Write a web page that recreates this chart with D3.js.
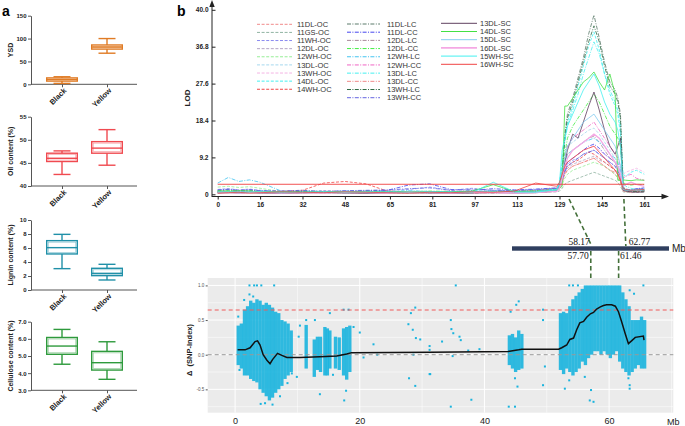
<!DOCTYPE html>
<html><head><meta charset="utf-8">
<script src="https://cdn.jsdelivr.net/npm/d3@7"></script>
<style>body{margin:0;background:#fff}svg{display:block;font-family:"Liberation Sans",Arial,sans-serif}</style>
</head><body><svg id="c" width="685" height="426"></svg>
<script>
// ---------------- DATA ----------------
const boxCategories = ["Black","Yellow"];
// [min, q1, median, q3, max]
const ysdStats = [[2,7,10.5,14,16.5],[68,77,81.5,86,100]];
const oilStats = [[42.5,45.3,46.0,47.1,47.6],[44.5,47.1,48.2,49.6,52.2]];
const ligninStats = [[3.05,5.15,6.05,7.05,7.95],[1.43,2.05,2.38,3.1,3.67]];
const celluloseStats = [[4.52,5.1,5.58,6.08,6.55],[3.64,4.18,4.61,5.27,5.83]];
const ysdTicks = [0,50,100,150];
const oilTicks = [40,45,50,55];
const ligninTicks = [0,2,4,6,8,10];
const celluloseTicks = [3,4,5,6,7];

const lodXTicks = [0,16,32,48,65,81,97,113,129,145,161];
const lodXLabels = ["0","16","32","48","65","81","97","113","129","145","161"];
const lodYTicks = [0,9.2,18.4,27.6,36.8,46];
const lodYLabels = ["0","9.2","18.4","27.6","36.8","40.0"];
const lodThreshold = 2.5;
const lodPositions = [0,4,8,12,16,24,32,40,48,56,64,72,80,88,96,104,112,120,128,
  129,130,131,132,134,136,138,140,142,144,146,148,150,151,152,153,154,156,158,161];
const lodNames = ["11DL-OC","11GS-OC","11WH-OC","12DL-OC","12WH-OC","13DL-OC","13WH-OC","14DL-OC","14WH-OC",
  "11DL-LC","11DL-CC","12DL-LC","12DL-CC","12WH-LC","12WH-CC","13DL-LC","13DL-CC","13WH-LC","13WH-CC",
  "13DL-SC","14DL-SC","15DL-SC","16DL-SC","15WH-SC","16WH-SC"];
const lodValues = [
 [0.9,1.0,0.8,0.9,0.7,0.6,0.5,0.8,0.7,0.6,0.5,0.7,0.6,0.8,0.7,0.6,0.8,0.9,1.2, 1.5,3.0,5.0,6.0,7.0,7.5,8.0,8.5,9.0,8.0,7.0,6.0,5.0,4.0,3.0,1.0,0.8,0.7,0.8,0.9],
 [0.5,0.6,0.4,0.5,0.6,0.4,0.5,0.3,0.4,0.5,0.4,0.3,0.5,0.4,0.3,0.5,0.4,0.5,0.6, 0.8,1.5,2.5,3.0,3.5,4.0,4.5,5.0,5.5,5.0,4.5,4.0,3.5,3.0,2.0,0.6,0.5,0.4,0.5,0.5],
 [1.2,1.4,1.1,1.3,1.0,0.8,0.6,0.9,0.7,0.8,1.0,1.2,1.8,1.0,1.5,0.9,1.0,1.1,1.5, 2.0,4.0,6.0,7.5,8.5,9.0,10.0,10.5,11.0,10.0,9.0,8.0,7.0,5.5,4.0,1.5,1.2,1.0,1.3,1.5],
 [0.8,0.9,1.0,0.8,0.7,0.6,0.8,0.5,0.6,0.7,0.8,0.6,0.7,0.5,0.6,0.7,0.8,0.7,1.0, 1.5,3.5,5.5,6.5,7.5,8.0,8.5,9.0,9.5,8.5,8.0,7.0,6.0,5.0,3.0,1.0,0.8,0.7,0.9,1.0],
 [1.8,2.0,1.7,1.9,1.5,0.7,0.6,0.5,0.6,0.7,0.5,0.6,0.5,0.7,0.6,0.8,0.5,0.6,0.9, 1.2,2.5,4.0,5.0,6.0,6.5,7.0,7.5,8.0,7.5,7.0,6.0,5.0,4.0,3.0,1.0,0.8,0.7,0.8,0.9],
 [0.8,0.7,0.9,0.8,0.6,0.5,0.7,0.6,0.8,0.7,0.6,0.5,0.7,0.6,0.8,0.7,0.6,0.8,1.5, 3.0,7.0,10.0,12.0,13.0,14.0,15.0,16.0,16.5,15.0,13.0,11.0,9.0,7.0,4.0,1.2,1.0,0.9,1.0,1.1],
 [0.6,0.5,0.7,0.6,0.5,0.4,0.6,0.5,0.4,0.6,0.5,0.7,0.6,0.5,0.4,0.6,0.5,0.7,1.0, 2.0,4.0,6.0,8.0,9.0,10.0,11.0,11.5,12.0,11.0,10.0,9.0,8.0,7.0,6.0,5.0,5.5,6.0,6.5,5.5],
 [0.7,0.8,0.6,0.7,0.9,0.6,0.5,0.6,0.7,0.5,0.6,0.8,0.7,0.6,0.5,0.7,0.6,0.8,1.2, 3.0,8.0,14.0,18.0,22.0,27.0,32.0,37.0,40.5,36.0,30.0,25.0,22.0,20.0,15.0,5.0,4.5,5.5,6.0,5.0],
 [0.5,0.6,0.4,0.5,0.6,0.8,1.0,2.8,3.2,2.6,0.8,0.6,0.5,0.4,0.6,0.5,0.7,0.9,1.5, 2.5,4.0,6.0,7.0,8.0,8.5,9.5,10.5,10.0,9.0,8.0,7.0,6.0,5.0,3.5,1.2,1.0,0.8,0.9,1.0],
 [0.6,0.5,0.7,0.6,0.5,0.6,0.4,0.5,0.6,0.5,0.4,0.6,0.5,0.6,0.5,0.4,0.6,0.7,1.0, 2.0,5.0,15.0,20.0,24.0,29.0,34.0,40.0,44.7,39.0,33.0,28.0,26.0,24.0,20.0,2.0,1.0,0.8,0.7,0.8],
 [1.0,1.2,0.9,1.1,0.8,0.7,0.9,0.6,0.8,0.9,1.0,2.3,2.6,1.2,1.0,1.4,1.1,1.3,1.6, 2.0,4.0,6.0,8.0,9.0,10.0,11.0,12.0,12.5,11.5,10.0,9.0,8.0,7.0,5.0,1.5,1.3,1.1,1.4,1.6],
 [0.7,0.6,0.8,0.7,0.6,0.5,0.7,0.6,0.5,0.7,0.6,0.5,0.6,0.7,0.5,0.6,0.7,0.6,1.0, 2.0,5.0,8.0,10.0,11.0,12.0,13.0,14.0,14.5,13.0,11.0,9.0,8.0,6.0,4.0,1.0,0.8,0.7,0.8,0.9],
 [0.9,1.0,0.8,0.9,0.7,0.6,0.8,0.7,0.6,0.8,0.7,0.6,0.8,0.7,0.6,0.7,0.8,0.9,1.2, 2.5,6.0,10.0,14.0,17.0,19.0,21.0,23.0,25.0,23.0,20.0,17.0,15.0,14.0,12.0,3.0,2.5,2.3,2.5,2.4],
 [2.8,4.2,3.2,3.6,3.0,0.8,0.7,0.6,0.8,0.6,0.7,0.9,0.7,0.6,0.8,0.9,0.7,0.8,1.4, 2.5,5.0,8.0,10.0,11.0,12.0,13.0,13.5,14.0,13.0,12.0,10.0,9.0,8.0,6.0,1.5,1.2,1.0,1.2,1.3],
 [0.5,0.6,0.4,0.5,0.6,0.5,0.4,0.6,0.5,0.4,0.6,0.5,0.4,0.6,0.5,0.4,0.5,0.6,1.0, 2.0,5.0,9.0,12.0,14.0,15.0,16.0,17.0,18.0,16.0,14.0,12.0,10.0,9.0,7.0,4.0,4.5,5.0,4.0,3.5],
 [0.6,0.7,0.5,0.6,0.7,0.5,0.6,0.4,0.5,0.6,0.5,0.4,0.6,0.5,0.7,0.6,0.5,0.7,1.1, 2.5,7.0,13.0,17.0,21.0,25.0,30.0,34.0,38.0,35.0,30.0,26.0,23.0,21.0,17.0,3.0,2.0,1.5,1.2,1.0],
 [0.4,0.5,0.3,0.4,0.5,0.3,0.4,0.5,0.3,0.4,0.5,0.3,0.4,0.5,0.3,0.4,0.5,0.4,0.8, 1.5,3.0,5.0,6.0,7.0,7.5,8.0,8.5,9.0,8.0,7.0,6.0,5.5,5.0,3.5,0.8,0.6,0.5,0.6,0.7],
 [0.5,0.4,0.6,0.5,0.4,0.5,0.6,0.4,0.5,0.4,0.6,0.5,0.4,0.5,0.6,0.4,0.5,0.6,0.9, 2.0,5.0,14.0,19.0,23.0,28.0,33.0,38.0,42.0,38.0,32.0,27.0,25.0,23.0,19.0,1.8,1.0,0.8,0.7,0.8],
 [1.1,1.3,1.0,1.2,0.9,0.8,1.0,0.7,0.9,1.0,1.1,1.4,1.6,1.0,1.3,1.0,0.9,1.2,1.5, 2.0,3.5,5.5,7.0,8.0,9.0,10.0,10.5,11.0,10.0,9.0,8.0,7.0,6.0,4.5,1.4,1.2,1.0,1.3,1.4],
 [0.3,0.4,0.3,0.4,0.3,0.2,0.3,0.4,0.3,0.2,0.3,0.4,0.3,0.2,0.3,0.4,0.3,0.4,0.8, 2.0,4.0,8.0,11.0,15.0,14.0,18.0,22.0,25.5,21.0,16.0,12.0,10.0,12.0,14.0,1.0,0.8,0.6,0.5,0.6],
 [0.8,0.7,0.9,0.8,0.6,0.7,0.5,0.6,0.7,0.5,0.6,0.7,0.5,0.6,0.8,2.4,0.7,0.6,1.0, 1.5,2.0,22.0,22.0,24.0,26.0,28.0,29.0,30.5,28.0,26.0,30.0,25.0,3.5,3.5,3.6,3.5,3.4,3.6,3.5],
 [0.6,0.5,0.7,0.6,0.5,0.6,0.4,0.5,0.6,0.4,0.5,0.6,0.5,0.4,0.6,0.5,0.4,0.6,1.0, 2.0,5.0,9.0,12.0,14.0,16.0,18.0,19.0,20.0,18.0,16.0,14.0,12.0,10.0,7.0,1.2,1.0,0.9,1.0,1.1],
 [0.4,0.5,0.3,0.4,0.5,0.3,0.4,0.3,0.5,0.4,0.3,0.5,0.4,0.3,0.5,0.4,0.3,0.4,0.7, 1.5,4.0,7.0,9.0,11.0,12.0,13.0,14.0,15.0,14.0,12.0,10.0,8.0,7.0,5.0,2.0,2.5,3.0,2.5,2.0],
 [0.5,0.6,0.4,0.5,0.6,0.4,0.5,0.6,0.4,0.5,0.6,0.4,0.5,0.6,0.4,3.0,0.6,0.5,1.2, 3.0,11.0,14.0,17.0,20.0,23.0,26.0,28.0,30.0,27.0,23.0,20.0,18.0,16.0,12.0,1.5,1.2,1.0,1.1,1.2],
 [0.3,0.4,0.5,0.3,0.4,0.6,0.5,0.4,0.6,0.5,0.4,0.3,0.5,0.4,0.6,0.5,0.8,2.8,2.0, 3.0,5.0,7.0,8.0,9.0,10.0,11.0,11.5,12.0,10.5,9.0,7.5,6.0,5.0,3.5,1.5,1.2,1.0,1.1,1.2]
];

const markerTop = [58.17, 62.77];
const markerTopLod = [132.6, 153.3];
const markerBottom = [57.70, 61.46];

const snpXTicks = [0,20,40,60];
const snpYTicks = [-0.5,0,0.5,1.0];
const snpYLabels = ["-0.5","0.0","0.5","1.0"];
const snpThreshold = 0.645;
// dense SNP clouds: [Mb, low, high]
const snpBins = [
 [0.5,-0.15,0.42],[1.0,-0.2,0.45],[1.5,-0.3,0.65],[2.0,-0.3,0.7],[2.5,-0.35,0.78],[3.0,-0.38,0.75],
 [3.5,-0.4,0.8],[4.0,-0.5,0.78],[4.5,-0.55,0.72],[5.0,-0.6,0.75],[5.5,-0.66,0.72],[6.0,-0.62,0.68],
 [6.5,-0.55,0.62],[7.0,-0.5,0.6],[7.5,-0.45,0.5],[8.0,-0.35,0.48],[8.5,-0.3,0.45],[9.0,-0.25,0.35],
 [11.4,-0.2,0.43],[12.7,-0.32,0.22],[13.2,-0.22,0.26],[13.7,-0.25,0.26],[14.4,-0.3,0.4],[14.8,-0.3,0.38],
 [15.2,-0.2,0.35],[16.1,-0.2,0.26],[16.7,-0.22,0.25],[17.4,-0.3,0.38],[17.9,-0.36,0.4],[18.4,-0.25,0.42],
 [44.0,-0.15,0.28],[44.5,-0.2,0.3],[45.0,-0.25,0.25],[45.5,-0.22,0.35],[46.0,-0.2,0.3],
 [52.2,-0.22,0.6],[52.7,-0.28,0.62],[53.2,-0.2,0.6],[53.7,-0.25,0.7],[54.2,-0.3,0.8],[54.7,-0.25,0.85],
 [55.2,-0.2,0.9],[55.7,-0.1,0.95],[56.2,-0.15,1.0],[56.7,-0.05,1.0],[57.2,0.0,1.0],[57.7,0.05,1.0],
 [58.2,0.05,1.0],[58.7,0.0,1.0],[59.2,0.05,1.0],[59.7,0.0,1.0],[60.2,-0.05,1.0],[60.7,0.0,1.0],
 [61.2,0.05,1.0],[61.7,-0.1,1.0],[62.2,-0.2,0.9],[62.7,-0.25,0.8],[63.2,-0.3,0.7],[63.7,-0.25,0.5],
 [64.2,-0.2,0.5],[64.7,-0.15,0.5],[65.2,-0.2,0.55],[65.7,-0.2,0.5]
];
// scattered SNPs: [Mb, value]
const snpPoints = [
 [2.3,1.0],[3.05,1.0],[3.5,1.0],[4.2,1.0],[6.26,1.0],[2.3,0.87],[2.9,0.84],[1.45,0.79],[0.5,0.55],[0.7,-0.22],
 [4.1,-0.71],[4.8,-0.7],[6.0,-0.72],[7.2,-0.6],[8.4,-0.41],[9.1,-0.27],[9.9,-0.32],[10.4,0.42],[10.2,0.26],
 [11.4,0.5],[12.8,0.5],[15.2,0.6],[17.4,0.65],[18.2,0.65],[19.0,0.4],[13.6,-0.57],[15.7,-0.29],[17.5,-0.66],
 [17.8,-0.52],[20.0,0.32],[20.6,-0.04],[22.2,0.15],[22.8,0.0],[27.8,0.44],[28.2,0.6],[28.9,0.68],[28.5,0.36],
 [29.0,0.24],[29.7,0.22],[28.6,0.0],[27.9,-0.34],[28.9,-0.45],[31.2,-0.28],[31.2,0.125],[31.2,0.07],
 [35.4,1.0],[34.6,0.5],[34.7,0.37],[35.0,0.31],[36.0,0.26],[36.2,0.21],[33.2,0.19],[34.9,-0.02],[39.2,0.08],
 [37.4,0.06],[37.9,-0.65],[34.6,-0.75],[31.3,-0.28],[43.9,-0.75],[44.9,-0.75],[45.5,0.77],[45.1,0.72],
 [44.2,0.62],[45.3,-0.46],[44.9,-0.34],[49.4,0.65],[49.4,0.5],[49.7,-0.17],[49.4,-0.44],[52.9,-0.49],
 [53.6,-0.37],[56.1,-0.32],[56.9,-0.66],[57.1,-0.51],[57.5,-0.68],[63.1,-0.34],[63.3,-0.44],[63.3,-0.49],
 [65.5,1.0],[53.6,1.0],[54.2,1.0],[55.0,1.0],[63.3,0.93],[64.0,0.88]
];
const snpSmooth = [
 [0.4,0.07],[1.6,0.07],[2.4,0.1],[3.2,0.19],[3.6,0.2],[4.0,0.14],[4.5,0.0],[5.1,-0.08],[5.6,-0.13],[6.0,-0.07],
 [6.8,0.02],[7.5,-0.01],[8.3,-0.04],[10.4,-0.04],[13.6,-0.03],[16.3,-0.02],[17.9,0.01],[18.7,0.03],[31.3,0.035],
 [43.8,0.045],[45.5,0.07],[46.0,0.08],[51.9,0.08],[52.4,0.1],[53.2,0.14],[53.7,0.22],[54.3,0.24],[54.8,0.36],
 [55.3,0.46],[55.9,0.48],[56.4,0.54],[57.0,0.59],[57.5,0.61],[58.0,0.66],[58.6,0.69],[59.1,0.71],[59.6,0.72],
 [60.4,0.72],[61.0,0.7],[61.5,0.62],[62.0,0.48],[62.6,0.3],[63.1,0.16],[63.6,0.2],[64.2,0.25],[65.5,0.27],[65.6,0.21]
];

// ---------------- STYLES ----------------
const lodColors = ["#f08a8a","#90b4a2","#8a8af0","#b4a4c4","#96ee96","#a6d8ee","#f4b4e4","#44f0f0","#f04444",
  "#5a7a6a","#4444ee","#a88898","#44ee44","#44c4f0","#f064c4","#44f0f0","#f08a8a","#2f6a44","#6464e0",
  "#604060","#44e044","#84ccf0","#f4a8e4","#44f0f0","#f04444"];
const lodDash = i => i < 9 ? "3,1.6" : (i < 19 ? "4,1.4,1,1.4" : null);

const svg = d3.select("#c");
const boldTxt = (sel, size) => sel.attr("font-size", size).attr("font-weight", "bold").attr("fill", "#222");

// ---------------- PANEL a ----------------
svg.append("text").attr("x", 2).attr("y", 16).attr("font-size", 14).attr("font-weight", "bold").text("a");
svg.append("text").attr("x", 177).attr("y", 16).attr("font-size", 14).attr("font-weight", "bold").text("b");

const boxPanels = [
 {title:"YSD", color:"#e07b24", stats:ysdStats, ticks:ysdTicks, domain:[0,150], top:15.7, bottom:84.3},
 {title:"Oil content (%)", color:"#f04a50", stats:oilStats, ticks:oilTicks, domain:[40,55], top:116.7, bottom:186},
 {title:"Lignin content (%)", color:"#2090a8", stats:ligninStats, ticks:ligninTicks, domain:[0,10], top:220, bottom:290},
 {title:"Cellulose content (%)", color:"#2e9a3c", stats:celluloseStats, ticks:celluloseTicks, domain:[3,7], top:321.7, bottom:390.3}
];
const xBox = d3.scalePoint().domain(boxCategories).range([62, 107]);
boxPanels.forEach(p => {
  const y = d3.scaleLinear().domain(p.domain).range([p.bottom, p.top]);
  const g = svg.append("g");
  const ax = g.append("g").attr("transform", "translate(31,0)")
    .call(d3.axisLeft(y).tickValues(p.ticks).tickSizeInner(3).tickSizeOuter(0).tickPadding(1.5));
  ax.select(".domain").attr("stroke", "#555");
  ax.selectAll(".tick line").attr("stroke", "#555");
  ax.selectAll(".tick text").call(boldTxt, 6).attr("font-family", "Liberation Sans, Arial");
  const axb = g.append("g").attr("transform", `translate(0,${p.bottom})`)
    .call(d3.axisBottom(xBox).tickSizeInner(3).tickSizeOuter(0).tickFormat(""));
  axb.select(".domain").attr("d", "M31,0H137").attr("stroke", "#555");
  axb.selectAll(".tick line").attr("stroke", "#555");
  g.selectAll(".cat").data(boxCategories).join("text")
    .attr("transform", d => `translate(${xBox(d) + 3},${p.bottom + 5}) rotate(-45)`)
    .attr("text-anchor", "end").attr("dy", "0.35em").text(d => d).call(boldTxt, 7.5);
  g.append("text").attr("transform", `translate(13,${(p.top + p.bottom) / 2}) rotate(-90)`)
    .attr("text-anchor", "middle").text(p.title).call(boldTxt, 7);
  const bg = g.selectAll(".box").data(boxCategories).join("g")
    .attr("stroke", p.color).attr("stroke-width", 1.4).attr("fill", "none");
  bg.each(function(c, i) {
    const s = p.stats[i], cx = xBox(c), e = d3.select(this);
    e.append("line").attr("x1", cx).attr("x2", cx).attr("y1", y(s[0])).attr("y2", y(s[1]));
    e.append("line").attr("x1", cx).attr("x2", cx).attr("y1", y(s[3])).attr("y2", y(s[4]));
    e.append("line").attr("x1", cx - 8.5).attr("x2", cx + 8.5).attr("y1", y(s[0])).attr("y2", y(s[0]));
    e.append("line").attr("x1", cx - 8.5).attr("x2", cx + 8.5).attr("y1", y(s[4])).attr("y2", y(s[4]));
    e.append("rect").attr("x", cx - 15.3).attr("width", 30.6).attr("y", y(s[3])).attr("height", y(s[1]) - y(s[3]));
    e.append("rect").attr("x", cx - 13.8).attr("width", 27.6).attr("y", y(s[3]) + 1.5)
      .attr("height", Math.max(0, y(s[1]) - y(s[3]) - 3)).attr("stroke-width", 0.6).attr("stroke-opacity", 0.6);
    e.append("line").attr("x1", cx - 15.3).attr("x2", cx + 15.3).attr("y1", y(s[2])).attr("y2", y(s[2]));
  });
});

// ---------------- PANEL b: LOD ----------------
const xL = d3.scaleLinear().domain([0, 161]).range([217.7, 644.3]);
const yL = d3.scaleLinear().domain([0, 46]).range([194.3, 9.8]);

const lodG = svg.append("g");
const line = d3.line().x((d, i) => xL(lodPositions[i])).y(d => yL(d)).defined(d => d != null);
lodG.selectAll(".lod").data(lodValues).join("path")
  .attr("d", d => line(d)).attr("fill", "none")
  .attr("stroke", (d, i) => lodColors[i])
  .attr("stroke-width", (d, i) => i === 22 ? 1.3 : 0.8)
  .attr("stroke-dasharray", (d, i) => lodDash(i));
lodG.append("line").attr("x1", xL(0)).attr("x2", xL(161)).attr("y1", yL(lodThreshold)).attr("y2", yL(lodThreshold))
  .attr("stroke", "#f04040").attr("stroke-width", 0.9);

// y axis
const ayL = svg.append("g").attr("transform", "translate(212,0)")
  .call(d3.axisLeft(yL).tickValues(lodYTicks).tickSizeInner(-3.5).tickSizeOuter(0).tickPadding(3.5)
    .tickFormat((d, i) => lodYLabels[i]));
ayL.select(".domain").remove();
ayL.selectAll(".tick line").attr("stroke", "#222");
ayL.selectAll(".tick text").call(boldTxt, 6.5);
svg.append("line").attr("x1", 212).attr("x2", 212).attr("y1", 197).attr("y2", 5).attr("stroke", "#222").attr("stroke-width", 1);
svg.append("path").attr("d", "M212,0L209.3,7L214.7,7Z").attr("fill", "#222");
// x axis
const axL = svg.append("g").attr("transform", "translate(0,196.5)")
  .call(d3.axisBottom(xL).tickValues(lodXTicks).tickSizeInner(3).tickSizeOuter(0).tickPadding(2.5)
    .tickFormat((d, i) => lodXLabels[i]));
axL.select(".domain").remove();
axL.selectAll(".tick line").attr("stroke", "#222");
axL.selectAll(".tick text").call(boldTxt, 6.5);
svg.append("line").attr("x1", 212).attr("x2", 664).attr("y1", 196.5).attr("y2", 196.5).attr("stroke", "#222");
svg.append("path").attr("d", "M669,196.5L661.5,193.8L661.5,199.2Z").attr("fill", "#222");
svg.append("text").attr("transform", "translate(190,98) rotate(-90)").attr("text-anchor", "middle")
  .text("LOD").call(boldTxt, 8);

// legend
const legCols = [{x0:257, x1:292, tx:297, y0:24.3, dy:8.12, from:0, to:9},
                 {x0:347, x1:380, tx:387, y0:24, dy:8.19, from:9, to:19},
                 {x0:441, x1:477, tx:480, y0:23.3, dy:8.2, from:19, to:25}];
legCols.forEach(c => {
  const idx = d3.range(c.from, c.to);
  const lg = svg.append("g");
  lg.selectAll("line").data(idx).join("line")
    .attr("x1", c.x0).attr("x2", c.x1).attr("y1", (d, k) => c.y0 + k * c.dy).attr("y2", (d, k) => c.y0 + k * c.dy)
    .attr("stroke", d => lodColors[d]).attr("stroke-width", d => d === 22 ? 1.6 : 1)
    .attr("stroke-dasharray", d => lodDash(d));
  lg.selectAll("text").data(idx).join("text")
    .attr("x", c.tx).attr("y", (d, k) => c.y0 + k * c.dy).attr("dy", "0.35em")
    .attr("font-size", 7.5).attr("fill", "#333").text(d => lodNames[d]);
});

// ---------------- chromosome bar & connectors ----------------
const xBar = d3.scaleLinear().domain([47.4, 68.6]).range([512, 669]);
const dashCol = "#44703a";
markerTop.forEach((m, i) => {
  svg.append("line").attr("x1", xL(markerTopLod[i])).attr("y1", 199).attr("x2", xBar(m)).attr("y2", 246)
    .attr("stroke", dashCol).attr("stroke-width", 1.6).attr("stroke-dasharray", "4.5,3");
});
markerBottom.forEach(m => {
  svg.append("line").attr("x1", xBar(m) + 2.5).attr("y1", 251).attr("x2", xBar(m) + 2.5).attr("y2", 284)
    .attr("stroke", dashCol).attr("stroke-width", 1.6).attr("stroke-dasharray", "4.5,3");
});
svg.append("rect").attr("x", xBar(47.4)).attr("y", 246.3).attr("width", xBar(68.6) - xBar(47.4)).attr("height", 4.4)
  .attr("fill", "#2f3f5f");
svg.append("text").attr("x", 672).attr("y", 252).attr("font-size", 10).attr("fill", "#222").text("Mb");
const serif = sel => sel.attr("font-family", "Liberation Serif, Times New Roman, serif").attr("font-size", 9.5).attr("fill", "#111");
svg.append("text").attr("x", xBar(markerTop[0]) - 2).attr("y", 244.5).attr("text-anchor", "end").text(markerTop[0].toFixed(2)).call(serif);
svg.append("text").attr("x", xBar(markerTop[1]) + 3).attr("y", 244.5).text(markerTop[1].toFixed(2)).call(serif);
svg.append("text").attr("x", xBar(markerBottom[0]) + 0.5).attr("y", 259).attr("text-anchor", "end").text(markerBottom[0].toFixed(2)).call(serif);
svg.append("text").attr("x", xBar(markerBottom[1]) + 4).attr("y", 259).text(markerBottom[1].toFixed(2)).call(serif);

// ---------------- SNP-index panel ----------------
const xS = d3.scaleLinear().domain([-4.4, 70.3]).range([207.7, 673.3]);
const yS = d3.scaleLinear().domain([-0.837, 1.107]).range([412.7, 278]);
const sg = svg.append("g");
sg.append("rect").attr("x", 207.7).attr("y", 278).attr("width", 673.3 - 207.7).attr("height", 412.7 - 278).attr("fill", "#ebebeb");
const minorX = [10, 30, 50, 70];
sg.selectAll(".mx").data(minorX).join("line").attr("x1", d => xS(d)).attr("x2", d => xS(d)).attr("y1", 278).attr("y2", 412.7)
  .attr("stroke", "#fff").attr("stroke-width", 0.5);
sg.selectAll(".my").data([-0.75, -0.25, 0.25, 0.75]).join("line").attr("y1", d => yS(d)).attr("y2", d => yS(d))
  .attr("x1", 207.7).attr("x2", 673.3).attr("stroke", "#fff").attr("stroke-width", 0.5);
sg.selectAll(".Mx").data(snpXTicks).join("line").attr("x1", d => xS(d)).attr("x2", d => xS(d)).attr("y1", 278).attr("y2", 412.7)
  .attr("stroke", "#fff").attr("stroke-width", 1);
sg.selectAll(".My").data(snpYTicks).join("line").attr("y1", d => yS(d)).attr("y2", d => yS(d))
  .attr("x1", 207.7).attr("x2", 673.3).attr("stroke", "#fff").attr("stroke-width", 1);

const snpColor = "#1ab4de";
sg.selectAll(".bin").data(snpBins).join("rect")
  .attr("x", d => xS(d[0] - 0.27)).attr("width", d => xS(d[0] + 0.27) - xS(d[0] - 0.27))
  .attr("y", d => yS(d[2])).attr("height", d => yS(d[1]) - yS(d[2]))
  .attr("fill", snpColor).attr("opacity", 0.9);
sg.selectAll(".pt").data(snpPoints).join("rect")
  .attr("x", d => xS(d[0]) - 1).attr("y", d => yS(d[1]) - 1).attr("width", 2).attr("height", 2).attr("fill", snpColor);

sg.append("line").attr("x1", 207.7).attr("x2", 673.3).attr("y1", yS(snpThreshold)).attr("y2", yS(snpThreshold))
  .attr("stroke", "#f05a5a").attr("stroke-width", 1).attr("stroke-dasharray", "4,3");
sg.append("line").attr("x1", 207.7).attr("x2", 673.3).attr("y1", yS(0)).attr("y2", yS(0))
  .attr("stroke", "#999").attr("stroke-width", 1).attr("stroke-dasharray", "4,3");
sg.append("path").datum(snpSmooth)
  .attr("d", d3.line().x(d => xS(d[0])).y(d => yS(d[1])))
  .attr("fill", "none").attr("stroke", "#111").attr("stroke-width", 1.5);

const axS = svg.append("g").attr("transform", "translate(0,412.7)")
  .call(d3.axisBottom(xS).tickValues(snpXTicks).tickSizeInner(0).tickSizeOuter(0).tickPadding(5).tickFormat(d3.format("d")));
axS.select(".domain").remove();
axS.selectAll(".tick text").attr("font-size", 9).attr("fill", "#222");
svg.append("text").attr("x", 667).attr("y", 425).attr("font-size", 9).attr("fill", "#222").text("Mb");
const ayS = svg.append("g").attr("transform", "translate(207.7,0)")
  .call(d3.axisLeft(yS).tickValues(snpYTicks).tickSizeInner(2).tickSizeOuter(0).tickPadding(1.5)
    .tickFormat((d, i) => snpYLabels[i]));
ayS.select(".domain").remove();
ayS.selectAll(".tick line").attr("stroke", "#555");
ayS.selectAll(".tick text").attr("font-size", 4.5).attr("fill", "#555");
svg.append("text").attr("transform", "translate(192,350) rotate(-90)").attr("text-anchor", "middle")
  .attr("xml:space", "preserve").text("Δ  (SNP-Index)").call(boldTxt, 7.5);
</script></body></html>
